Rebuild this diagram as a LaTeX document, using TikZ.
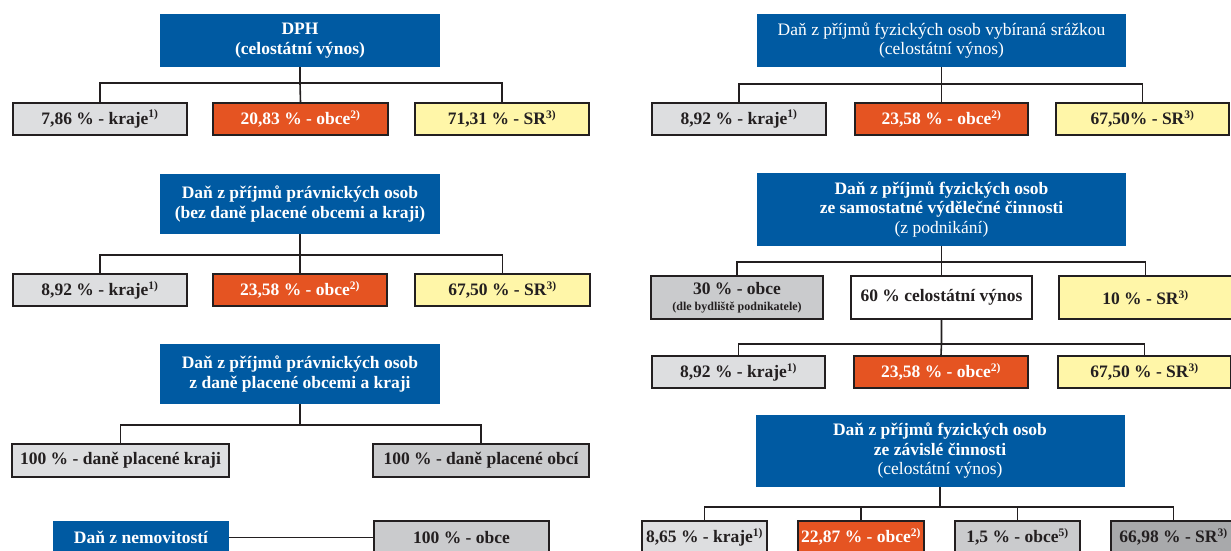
\documentclass[tikz,border=0pt]{standalone}
\usepackage{fontspec}
\setmainfont{Liberation Serif}

\definecolor{taxblue}{RGB}{0,90,162}
\definecolor{krajgray}{RGB}{221,222,224}
\definecolor{obceorange}{RGB}{229,84,34}
\definecolor{sryellow}{RGB}{255,246,168}
\definecolor{restgray}{RGB}{202,203,205}
\definecolor{srgray}{RGB}{168,169,171}
\definecolor{inkgray}{RGB}{35,31,32}

\newcommand{\fnref}[1]{\textsuperscript{\fontsize{11.5}{11.5}\selectfont #1)}}

\begin{document}
\begin{tikzpicture}[x=1pt,y=-1pt,
                    wh/.style 2 args={minimum width=#1pt,minimum height=#2pt},
                    tax/.style={fill=taxblue,text=white,align=center,inner sep=0pt,
                                font=\fontsize{17.5}{19.5}\selectfont\bfseries},
                    taxlight/.style={tax,font=\fontsize{17.5}{19.5}\selectfont},
                    share/.style={draw=inkgray,line width=1.4pt,inner sep=0pt,align=center,
                                  text=inkgray,font=\fontsize{17.5}{19}\selectfont\bfseries},
                    kraj/.style={share,fill=krajgray},
                    obec/.style={share,fill=obceorange,text=white},
                    stat/.style={share,fill=sryellow},
                    rest/.style={share,fill=restgray},
                    link/.style={draw=inkgray,line width=1.6pt}]

  \clip (0,0) rectangle (1231,550);

  % DPH
  \node[tax,wh={280}{53}]  (dph)  at (300,40.5) {DPH\\(celostátní výnos)};
  \node[kraj,wh={174}{32}] (dphK) at (100,119)   {7,86 \% - kraje\fnref{1}};
  \node[obec,wh={175}{32}] (dphO) at (300.5,119) {20,83 \% - obce\fnref{2}};
  \node[stat,wh={174}{32}] (dphS) at (502,119)   {71,31 \% - SR\fnref{3}};
  \draw[link] (dph.south) -- ++(0,16) coordinate (dphBus) -- (dphO.north);
  \draw[link] (dphK.north) |- (dphBus);
  \draw[link] (dphS.north) |- (dphBus);

  % DPPO bez dane placene obcemi a kraji
  \node[tax,wh={280}{60}]  (ppo)  at (300,204) {Daň z příjmů právnických osob\\(bez daně placené obcemi a kraji)};
  \node[kraj,wh={174}{32}] (ppoK) at (100,290)   {8,92 \% - kraje\fnref{1}};
  \node[obec,wh={174}{32}] (ppoO) at (300,290)   {23,58 \% - obce\fnref{2}};
  \node[stat,wh={175}{32}] (ppoS) at (502.5,290) {67,50 \% - SR\fnref{3}};
  \draw[link] (ppo.south) -- ++(0,21) coordinate (ppoBus) -- (ppoO.north);
  \draw[link] (ppoK.north) |- (ppoBus);
  \draw[link] (ppoS.north) |- (ppoBus);

  % DPPO z dane placene obcemi a kraji
  \node[tax,wh={280}{60}]  (ppoz)  at (300,374) {Daň z příjmů právnických osob\\z daně placené obcemi a kraji};
  \node[kraj,wh={217}{33}] (ppozK) at (120.5,460.5) {100 \% - daně placené kraji};
  \node[rest,wh={216}{33}] (ppozO) at (481,460.5)   {100 \% - daně placené obcí};
  \draw[link] (ppoz.south) -- ++(0,21) coordinate (ppozBus);
  \draw[link] (ppozK.north) |- (ppozBus);
  \draw[link] (ppozO.north) |- (ppozBus);

  % dan z nemovitosti
  \node[tax,wh={176}{33}]  (nem)  at (141,537.5)   {Daň z nemovitostí};
  \node[rest,wh={175}{33}] (nemO) at (461.5,537.5) {100 \% - obce};
  \draw[link] (nem) -- (nemO);

  % DPFO srazkou
  \node[taxlight,wh={369}{53}] (srz) at (941.5,40.5) {Daň z příjmů fyzických osob vybíraná srážkou\\(celostátní výnos)};
  \node[kraj,wh={174}{32}] (srzK) at (739,119)    {8,92 \% - kraje\fnref{1}};
  \node[obec,wh={173}{32}] (srzO) at (941.5,119)  {23,58 \% - obce\fnref{2}};
  \node[stat,wh={173}{32}] (srzS) at (1142.5,119) {67,50\% - SR\fnref{3}};
  \draw[link] (srz.south) -- ++(0,17) coordinate (srzBus) -- (srzO.north);
  \draw[link] (srzK.north) |- (srzBus);
  \draw[link] (srzS.north) |- (srzBus);

  % DPFO z podnikani
  \node[tax,wh={369}{73}] (pod) at (941.5,209.5) {Daň z příjmů fyzických osob\\ze samostatné výdělečné činnosti\\{\mdseries (z podnikání)}};
  \node[rest,wh={172}{43}] (podO) at (737,297.5) {30 \% - obce\\[-3pt]{\fontsize{12}{13}\selectfont (dle bydliště podnikatele)}};
  \node[share,fill=white,wh={181}{43}] (podC) at (941.5,297.5) {60 \% celostátní výnos};
  \node[stat,wh={173}{43}] (podS) at (1145.5,297.5) {10 \% - SR\fnref{3}};
  \draw[link] (pod.south) -- ++(0,16) coordinate (podBus) -- (podC.north);
  \draw[link] (podO.north) |- (podBus);
  \draw[link] (podS.north) |- (podBus);

  \node[kraj,wh={173}{32}] (celK) at (738.5,372)  {8,92 \% - kraje\fnref{1}};
  \node[obec,wh={174}{32}] (celO) at (941,372)    {23,58 \% - obce\fnref{2}};
  \node[stat,wh={173}{32}] (celS) at (1144.5,372) {67,50 \% - SR\fnref{3}};
  \draw[link] (podC.south) -- ++(0,24) coordinate (celBus) -- (celO.north);
  \draw[link] (celK.north) |- (celBus);
  \draw[link] (celS.north) |- (celBus);

  % DPFO ze zavisle cinnosti
  \node[tax,wh={369}{72}] (zav) at (940,451) {Daň z příjmů fyzických osob\\ze závislé činnosti\\{\mdseries (celostátní výnos)}};
  \node[kraj,wh={125}{32}] (zavK)  at (704.5,537)  {8,65 \% - kraje\fnref{1}};
  \node[obec,wh={126}{32}] (zavO)  at (861,537)    {22,87 \% - obce\fnref{2}};
  \node[rest,wh={125}{32}] (zavO5) at (1017.5,537) {1,5 \% - obce\fnref{5}};
  \node[share,fill=srgray,wh={125}{32}] (zavS) at (1173.5,537) {66,98 \% - SR\fnref{3}};
  \draw[link] (zav.south) -- ++(0,20) coordinate (zavBus);
  \draw[link] (zavK.north)  |- (zavBus);
  \draw[link] (zavO.north)  |- (zavBus);
  \draw[link] (zavO5.north) |- (zavBus);
  \draw[link] (zavS.north)  |- (zavBus);
\end{tikzpicture}
\end{document}
